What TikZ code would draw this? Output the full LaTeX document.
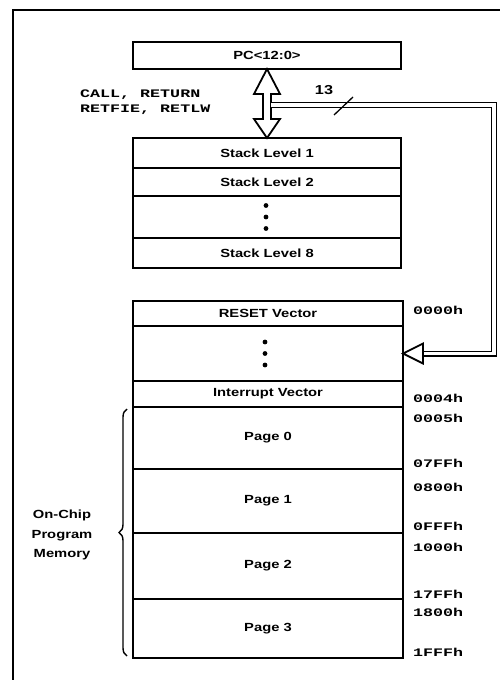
\documentclass[tikz,border=0pt]{standalone}
\usepackage{fontspec}
\setmainfont{Liberation Sans}
\newfontfamily\boxfont[FakeStretch=1.25]{Liberation Sans}
\newfontfamily\codefont[FakeStretch=1.45]{Liberation Mono}
\usetikzlibrary{positioning,calc,decorations.pathreplacing}

\tikzset{
  cell/.style={draw, line width=1.6pt, minimum width=268pt, inner sep=0pt, outer sep=0pt,
    font=\boxfont\bfseries\fontsize{11.8}{13}\selectfont},
  memcell/.style={cell, minimum width=270pt},
  addr/.style={anchor=west, inner sep=0pt, font=\codefont\bfseries\fontsize{11.5}{13}\selectfont},
  hollow/.style={draw, line width=1.8pt, fill=white, line join=miter},
  bus/.style={double, double distance=3.6pt, line width=1.2pt, line join=miter},
}

\begin{document}
\begin{tikzpicture}[x=1pt, y=-1pt]
\useasboundingbox (0,0) rectangle (500,680);
\clip (0,0) rectangle (500,680);
% frame
\draw[line width=1.3pt] (13,700) |- (520,10);

% program counter and stack
\node[cell, minimum height=27pt] (pc) at (267,55.5) {PC<12:0>};
\node[cell, minimum height=30pt, anchor=north] (s1) at (267,138) {Stack Level 1};
\node[cell, minimum height=28pt, below=0pt of s1] (s2) {Stack Level 2};
\node[cell, minimum height=42pt, below=0pt of s2] (sdots) {};
\node[cell, minimum height=30pt, below=0pt of sdots] (s8) {Stack Level 8};
\foreach \d in {-11.5,0,11.5}
  \fill ($(sdots.center)+(-1,\d)$) circle (2.4pt);

% program memory
\node[memcell, minimum height=25pt, anchor=north] (reset) at (268,301) {RESET Vector};
\node[memcell, minimum height=55pt, below=0pt of reset] (mdots) {};
\node[memcell, minimum height=26pt, below=0pt of mdots] (intv) {Interrupt Vector};
\node[memcell, minimum height=62pt, below=0pt of intv] (p0) {Page 0};
\node[memcell, minimum height=64pt, below=0pt of p0] (p1) {Page 1};
\node[memcell, minimum height=66pt, below=0pt of p1] (p2) {Page 2};
\node[memcell, minimum height=59pt, below=0pt of p2] (p3) {Page 3};
\foreach \d in {-11.5,0,11.5}
  \fill ($(mdots.center)+(-3,\d)$) circle (2.4pt);

% push/pop arrow
\coordinate (up) at (pc.south);
\coordinate (dn) at (s1.north);
\draw[hollow] (up) -- ($(up)+(13,25)$) -- ($(up)+(4,25)$) -- ($(dn)+(4,-19)$)
  -- ($(dn)+(13,-19)$) -- (dn) -- ($(dn)+(-13,-19)$) -- ($(dn)+(-4,-19)$)
  -- ($(up)+(-4,25)$) -- ($(up)+(-13,25)$) -- cycle;
\node[anchor=west, align=left, inner sep=0pt, font=\codefont\bfseries\fontsize{11.5}{15}\selectfont]
  (ops) at (80,102) {CALL, RETURN\\RETFIE, RETLW};

% 13-bit bus back to the reset vector
\coordinate (tap) at ($(up)+(4,36)$);
\draw[bus] (tap) -| ($(mdots.east)+(91,0)$) -- ($(mdots.east)+(20,0)$);
\draw[hollow] (mdots.east) -- ++(20,-10) -- ++(0,20) -- cycle;
\draw[line width=1.3pt] ($(tap)+(63,10)$) -- ($(tap)+(82,-8)$);
\node[font=\boxfont\bfseries\fontsize{13}{15}\selectfont, inner sep=0pt] (width) at (324,90) {13};

% addresses
\node[addr] (a0) at (413,310) {0000h};
\node[addr] (a4) at (413,398) {0004h};
\node[addr] (a5) at (413,418) {0005h};
\node[addr] (a07) at (413,463) {07FFh};
\node[addr] (a08) at (413,487) {0800h};
\node[addr] (a0f) at (413,526) {0FFFh};
\node[addr] (a10) at (413,547) {1000h};
\node[addr] (a17) at (413,594) {17FFh};
\node[addr] (a18) at (413,612) {1800h};
\node[addr] (a1f) at (413,652) {1FFFh};

% brace
\draw[line width=1.4pt, decorate, decoration={brace, amplitude=8pt}]
  ($(p3.south west)+(-6,-2)$) -- ($(p0.north west)+(-6,2)$);
\node[align=center, inner sep=0pt, font=\boxfont\bfseries\fontsize{11.8}{19.5}\selectfont]
  (onchip) at (62,535) {On-Chip\\Program\\Memory};
\end{tikzpicture}
\end{document}
